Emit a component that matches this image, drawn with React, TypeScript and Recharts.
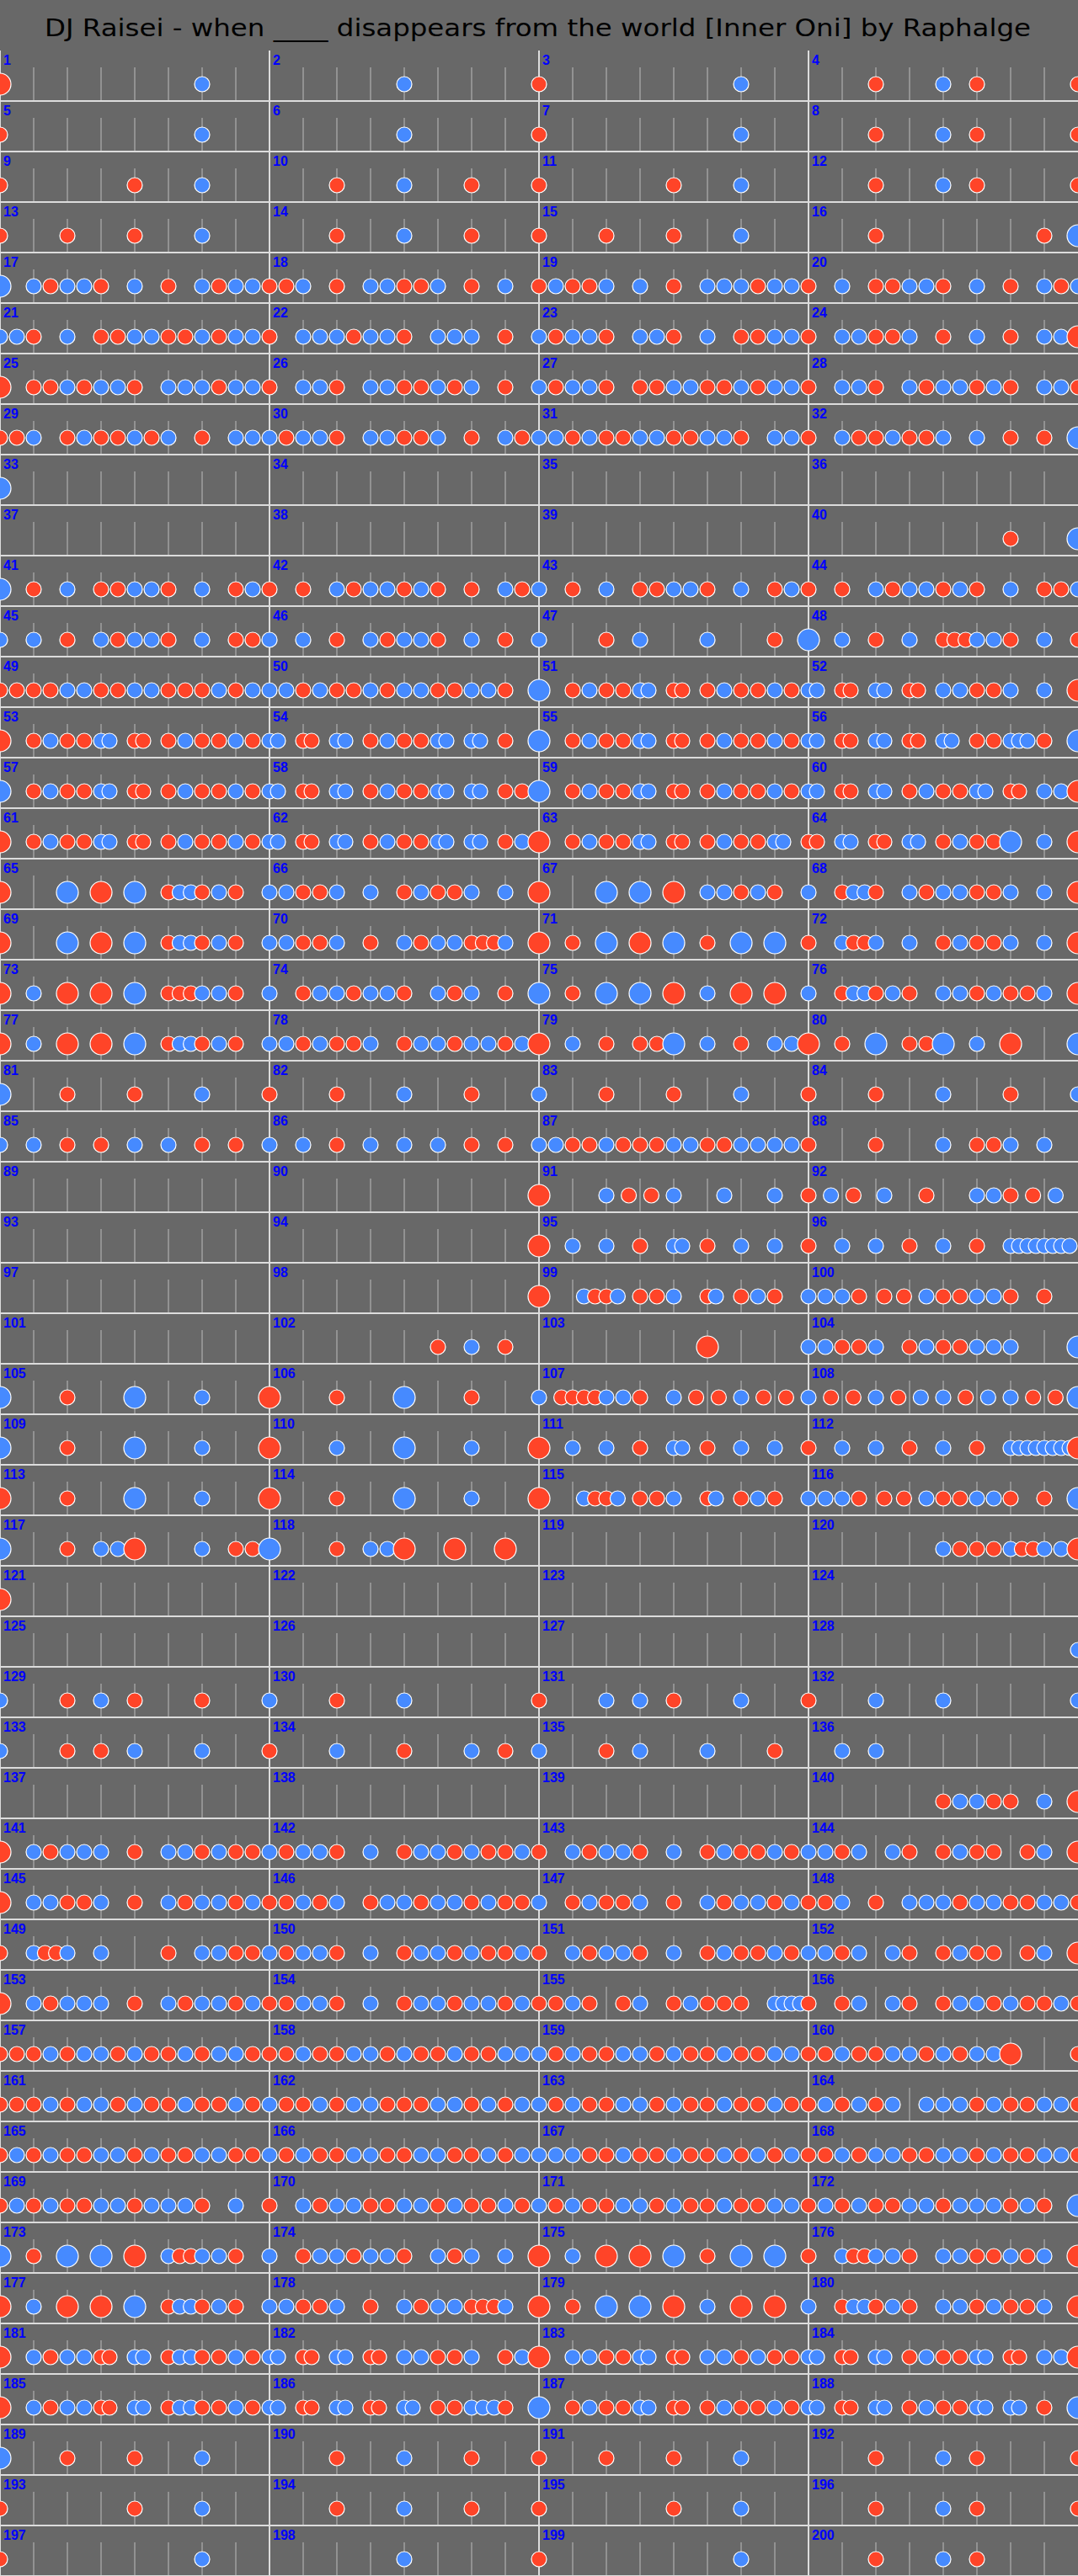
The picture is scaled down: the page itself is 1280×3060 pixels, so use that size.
import { ReferenceLine, Scatter, ScatterChart, XAxis, YAxis } from 'recharts';

const title = 'DJ Raisei - when ____ disappears from the world [Inner Oni] by Raphalge';

// one string per bar.
// only digits: evenly spaced slots, 0 rest / 1 don / 2 ka / 3 big don / 4 big ka
// otherwise: tokens "<position in 16ths><d|k|D|K>" (for triplets and 32nds)
const bars001 = [
  '3000000000002000', '0000000020000000', '1000000000002000', '0000100020100000',
  '1000000000002000', '0000000020000000', '1000000000002000', '0000100020100000',
  '1000000010002000', '0000100020001000', '1000000010002000', '0000100020100000',
  '1000100010002000', '0000100020001000', '1000100010002000', '0000100000000010',
  '4021221020102122', '1120102211201020', '1211202010222122', '1020112210201021',
];
const bars021 = [
  '2210201122112122', '1022212210222010', '2122102210201122', '1022112010201022',
  '3011212210222122', '1022102211212010', '2122101122112122', '1022102122121022',
  '1120121121201022', '2122102211201021', '2212112211221022', '1021121120201010',
  '4', '', '', '',
  '', '', '', '0000000000001000',
];
const bars041 = [
  '4010201122102012', '1010212212101021', '2010201122102012', '1010212212102011',
  '2020102122102011', '2020102122102010', '2000102000200010', '0K 2k 4d 6k 8d 8.67d 9.33d 10k 11k 12d 14k',
  '1111221122111212', '2212112122112210',
  '0K 2d 3k 4d 5d 6k 6.5k 8d 8.5d 10d 11k 12d 13d 14k 15d',
  '0k 0.5k 2d 2.5d 4k 4.5k 6d 6.5d 8k 9k 10d 11d 12k 14k',
  '0D 2d 3k 4d 5d 6k 6.5k 8d 8.5d 10d 11k 12d 13d 14k 15d',
  '0k 0.5k 2d 2.5d 4k 4.5k 6d 7k 8d 9d 10k 10.5k 12k 12.5k 14d',
  '0K 2d 3k 4d 5d 6k 6.5k 8d 8.5d 10d 11k 12d 13d 14k 15d',
  '0k 0.5k 2d 2.5d 4k 4.5k 6d 6.5d 8k 8.5k 10d 11d 12k 12.5k 13k 14d',
  '0K 2d 3k 4d 5d 6k 6.5k 8d 8.5d 10d 11k 12d 13d 14k 15d',
  '0k 0.5k 2d 2.5d 4k 4.5k 6d 7k 8d 9d 10k 10.5k 12k 12.5k 14d 15d',
  '0K 2d 3k 4d 5d 6k 6.5k 8d 8.5d 10d 11k 12d 13d 14k 15d',
  '0k 0.5k 2d 2.5d 4k 4.5k 6d 7k 8d 9d 10k 10.5k 12d 12.5d 14k 15k',
];
const bars061 = [
  '0D 2d 3k 4d 5d 6k 6.5k 8d 8.5d 10d 11k 12d 13d 14k 15d',
  '0k 0.5k 2d 2.5d 4k 4.5k 6d 7k 8d 9d 10k 10.5k 12k 12.5k 14d 15k',
  '0D 2d 3k 4d 5d 6k 6.5k 8d 8.5d 10d 11k 12d 13d 14k 14.5k',
  '0d 0.5d 2k 2.5k 4d 4.5d 6k 6.5k 8d 9k 10d 11d 12K 14k',
  '0D 4K 6D 8K 10d 10.67k 11.33k 12d 13k 14d',
  '2211202012112020',
  '3000404030221210',
  '0k 2d 2.67k 3.33k 4d 6k 7d 8k 9k 10d 11d 12k 14k',
  '0D 4K 6D 8K 10d 10.67k 11.33k 12d 13k 14d',
  '0k 1k 2d 3d 4k 6d 8k 9d 10k 11k 12d 12.67d 13.33d 14k',
  '3010403040104040',
  '0d 2k 2.67d 3.33d 4k 6k 8d 9k 10d 11d 12k 14k',
  '0D 2k 4D 6D 8K 10d 10.67d 11.33d 12k 13k 14d',
  '2012212210212010',
  '4010404030203030',
  '0k 2d 2.67k 3.33k 4d 5k 6d 8k 9k 10d 11k 12d 13d 14k',
  '0D 2k 4D 6D 8K 10d 10.67k 11.33k 12d 13k 14d',
  '2212112012212212',
  '3020101140201022',
  '3010401140203000',
];
const bars081 = [
  '4000100010002000', '1000100020001000', '2000100010002000', '1000100020001000',
  '2020101020201010', '2020102020201010', '2211211122112222', '1000100020112020',
  '', '', '0D 4k 5.33d 6.67d 8k 11k 14k', '0d 1.33k 2.67d 4.5k 7d 10k 11k 12d 13.33d 14.67k',
  '', '', '0D 2k 4k 6d 8k 8.5k 10d 12k 14k', '0d 2k 4k 6d 8k 10d 12k 12.5k 13k 13.5k 14k 14.5k 15k 15.5k',
  '', '', '0D 2.67k 3.33d 4d 4.67k 6d 7d 8k 10d 10.5k 12d 13k 14d', '0k 1k 2k 3d 4.5d 5.67d 7k 8d 9d 10k 11k 12d 14d',
];
const bars101 = [
  '', '0000000000102010', '0000000000300000', '2211201211222000',
  '4000100040002000', '3000100040001000',
  '0k 1.33d 2d 2.67d 3.33d 4k 5k 6d 8k 9.33d 10.67d 12k 13.33d 14.67d', '211212212211',
  '4000100040002000', '3000200040002000', '0D 2k 4k 6d 8k 8.5k 10d 12k 14k',
  '0d 2k 4k 6d 8k 10d 12k 12.5k 13k 13.5k 14k 14.5k 15k 15.5k',
  '3000100040002000', '3000100040002000',
  '0D 2.67k 3.33d 4d 4.67k 6d 7d 8k 10d 10.5k 12d 13k 14d', '0k 1k 2k 3d 4.5d 5.67d 7k 8d 9d 10k 11k 12d 14d',
  '4000102230002011', '4000102230030030', '', '8k 9d 10d 11d 12k 12.67d 13.33d 14k 15k',
];
const bars121 = [
  '3', '', '', '',
  '', '', '', '',
  '2000102010001000', '2000100020000000', '1000202010002000', '1000200020000000',
  '2000101020002000', '1000200010002010', '2000102000200010', '0020200000000000',
  '', '', '', '0000000012211020',
];
const bars141 = [
  '3021222010221211', '2122102012212112', '1021221020121121', '2212021012110120',
  '3022112010212212', '1121201221221211', '2012112010212212', '1120102221221122',
  '0d 2k 2.67d 3.33d 4k 6k 10d 12k 13k 14d 15d', '2122102012212112', '1021221020121121', '2212021012110120',
  '3021222010212212', '1122102012212212', '0d 1d 2k 3d 5d 6k 8d 9k 10d 11d 12d 14k 14.5k 15k 15.5k', '1012021012212112',
  '1112122121121221', '1121122121121122', '2121122121121122', '1121122121223000',
];
const bars161 = [
  '1112122121121121', '2112122111221212', '2121122121121121', '1212120222121122',
  '1212112212112211', '2121122112211212', '2221121121121212', '1121221122121122',
  '1212112212221020', '1021221122121121', '2121122121121122', '1212112212221210',
  '0K 2d 4K 6K 8D 10k 10.67d 11.33d 12k 13k 14d', '2012212210212020', '3020303040104040',
  '0d 2k 2.67d 3.33d 4k 5k 6d 8k 9k 10d 11d 12k 13d 14k',
  '0D 2k 4D 6D 8K 10d 10.67k 11.33k 12d 13k 14d',
  '0k 1k 2d 3d 4k 6d 8k 9d 10k 11k 12d 12.67d 13.33d 14k',
  '3010404030203030',
  '0k 2d 2.67k 3.33k 4d 5k 6d 8k 9k 10d 11k 12d 13d 14k',
];
const bars181 = [
  '0D 2k 3d 4k 5k 6d 6.5d 8k 8.5k 10d 10.67k 11.33k 12d 13d 14k 15d',
  '0k 0.5k 2d 2.5d 4k 4.5k 6d 6.5d 8k 9k 10d 11d 12k 14d 15k',
  '0D 2k 3k 4d 5d 6k 6.5k 8d 8.5d 10k 11k 12d 13k 14d 15d',
  '0k 0.5k 2d 2.5d 4k 4.5k 6d 7k 8d 9d 10k 10.5k 12d 12.5d 14k 15k',
  '0D 2k 3d 4k 5k 6d 6.5d 8k 8.5k 10d 10.67k 11.33k 12d 13d 14k 15d',
  '0k 0.5k 2d 2.5d 4k 4.5k 6d 6.5d 8k 8.5k 10d 11d 12k 12.67k 13.33k 14d',
  '0K 2d 3k 4d 5d 6k 6.5k 8d 8.5d 10d 11k 12d 13d 14k 15d',
  '0k 0.5k 2d 2.5d 4k 4.5k 6d 7k 8d 9d 10k 10.5k 12k 12.5k 14d',
  '4000100010002000', '0000100020001000', '1000100010002000', '0000100020100000',
  '1000000010002000', '0000100020001000', '1000000010002000', '0000100020100000',
  '1000000000002000', '0000000020000000', '1000000000002000', '0000100020100000',
];

const bars = [
  ...bars001, ...bars021, ...bars041, ...bars061, ...bars081,
  ...bars101, ...bars121, ...bars141, ...bars161, ...bars181,
];

const COLS = 4;
const SLOTS = 16;
const ROWS = Math.ceil(bars.length / COLS);
const W = 1280;
const H = 3060;
const BG = '#686868';
const RED = '#ff4428';
const BLUE = '#468aff';

const letterType: Record<string, number> = { d: 1, k: 2, D: 3, K: 4 };

function parseBar(s: string) {
  if (!s) return [];
  if (/^[0-4]+$/.test(s)) {
    const out: { pos: number; type: number }[] = [];
    for (let i = 0; i < s.length; i++) {
      const t = Number(s[i]);
      if (t) out.push({ pos: (i / s.length) * SLOTS, type: t });
    }
    return out;
  }
  return s.split(' ').map((tok) => ({ pos: parseFloat(tok), type: letterType[tok[tok.length - 1]] }));
}

const notes: { x: number; y: number; type: number }[] = [];
const labels: { x: number; y: number; n: number }[] = [];
bars.forEach((bar, i) => {
  const col = i % COLS;
  const row = Math.floor(i / COLS);
  labels.push({ x: col * SLOTS, y: row, n: i + 1 });
  parseBar(bar).forEach((n) => {
    notes.push({ x: col * SLOTS + n.pos, y: row + 2 / 3, type: n.type });
    // first note of a row also shows at the end of the row above
    if (col === 0 && n.pos === 0 && row > 0) {
      notes.push({ x: COLS * SLOTS, y: row - 1 + 2 / 3, type: n.type });
    }
  });
});

const ticks: { x: number; y: number }[] = [];
for (let r = 0; r < ROWS; r++) {
  for (let c = 0; c < COLS; c++) {
    for (let k = 1; k < 8; k++) ticks.push({ x: c * SLOTS + k * 2, y: r + 1 / 3 });
  }
}

const NoteMark = (p: any) => {
  const t = p.payload.type;
  const big = t >= 3;
  return (
    <circle
      cx={p.cx}
      cy={p.cy}
      r={big ? 13 : 9}
      fill={t === 1 || t === 3 ? RED : BLUE}
      stroke="#ffffff"
      strokeWidth={1.2}
    />
  );
};

const TickMark = (p: any) => (
  <line x1={p.cx} x2={p.cx} y1={p.cy} y2={p.cy + 39} stroke="#bcbcbc" strokeWidth={1} />
);

const BarNumber = (p: any) => (
  <text
    x={p.cx + 4}
    y={p.cy + 17}
    fill="#0000ff"
    fontFamily="Liberation Sans, Arial, sans-serif"
    fontWeight="bold"
    fontSize={16}
  >
    {p.payload.n}
  </text>
);

export default function App() {
  return (
    <div style={{ position: 'relative', width: W, height: H, background: BG }}>
      <style>{'body{margin:0}'}</style>
      <ScatterChart width={W} height={H} margin={{ top: 0, right: 0, bottom: 0, left: 0 }}>
        <XAxis type="number" dataKey="x" domain={[0, COLS * SLOTS]} hide />
        <YAxis type="number" dataKey="y" domain={[-1, ROWS]} reversed hide />
        {Array.from({ length: ROWS }, (_, r) => (
          <ReferenceLine key={'h' + r} y={r + 1} stroke="#dcdcdc" strokeWidth={2} />
        ))}
        {Array.from({ length: COLS }, (_, c) => (
          <ReferenceLine
            key={'v' + c}
            segment={[{ x: c * SLOTS, y: 0 }, { x: c * SLOTS, y: ROWS }]}
            stroke="#dcdcdc"
            strokeWidth={2}
          />
        ))}
        <Scatter data={ticks} shape={TickMark} isAnimationActive={false} />
        <Scatter data={notes} shape={NoteMark} isAnimationActive={false} />
        <Scatter data={labels} shape={BarNumber} isAnimationActive={false} />
      </ScatterChart>
      <svg style={{ position: 'absolute', left: 0, top: 0 }} width={W} height={60}>
        <text
          x={53}
          y={43}
          fontFamily="DejaVu Sans, sans-serif"
          fontSize={29}
          textLength={1171}
          lengthAdjust="spacingAndGlyphs"
          fill="#000000"
        >
          {title}
        </text>
      </svg>
    </div>
  );
}
